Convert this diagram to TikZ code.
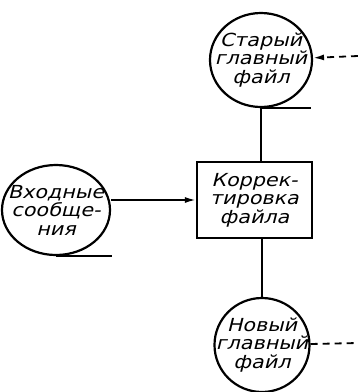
\documentclass[tikz,border=0pt]{standalone}
\usepackage{fontspec}
\newfontfamily\gostfont[FakeStretch=1.15,FakeSlant=0.25]{DejaVu Sans}
\usetikzlibrary{positioning, arrows.meta, shapes.geometric}

\begin{document}
\begin{tikzpicture}[
    x=1pt, y=-1pt,
    every node/.style={
        font=\gostfont\fontsize{18}{18.5}\selectfont,
        align=center,
        inner sep=0pt
    },
    store/.style={draw, ellipse, line width=2.2pt, inner sep=-16pt},
    process/.style={
        draw,
        rectangle,
        line width=2.2pt,
        minimum width=115pt,
        minimum height=76pt
    },
    flow/.style={line width=1.8pt},
    tape/.style={line width=2.6pt},
    >={Latex[length=11pt,width=6pt]}
]

\useasboundingbox (0,0) rectangle (358,392);

%% ── Nodes ────────────────────────────────────────────────────────────────────

\node[store, minimum width=102pt, minimum height=94pt] (oldfile) at (261,60)
    {Старый\\главный\\файл};

\node[process] (update) at (254.5,200)
    {Коррек-\\тировка\\файла};

\node[store, minimum width=108pt, minimum height=90pt] (input) at (56,210)
    {Входные\\сообще-\\ния};

\node[store, minimum width=95pt, minimum height=94pt] (newfile) at (262,345)
    {Новый\\главный\\файл};

\coordinate (oldsrc) at (358,56);
\coordinate (newdst) at (358,343);

%% ── Tape marks ───────────────────────────────────────────────────────────────
\draw[tape] (oldfile.south) -- +(50,0);
\draw[tape] (input.south) -- +(56,0);
\draw[tape] (newfile.south) -- +(42,0);

%% ── Flows ────────────────────────────────────────────────────────────────────
\draw[flow] (oldfile.south) -- (oldfile.south |- update.north);
\draw[flow] (newfile.north |- update.south) -- (newfile.north);
\draw[flow, ->] (input.east |- update.west) -- (update.west);
\draw[flow, dash pattern=on 7pt off 5pt, ->] (oldsrc) -- (oldfile);
\draw[flow, dash pattern=on 7pt off 5pt] (newfile) -- (newdst);

\end{tikzpicture}
\end{document}
